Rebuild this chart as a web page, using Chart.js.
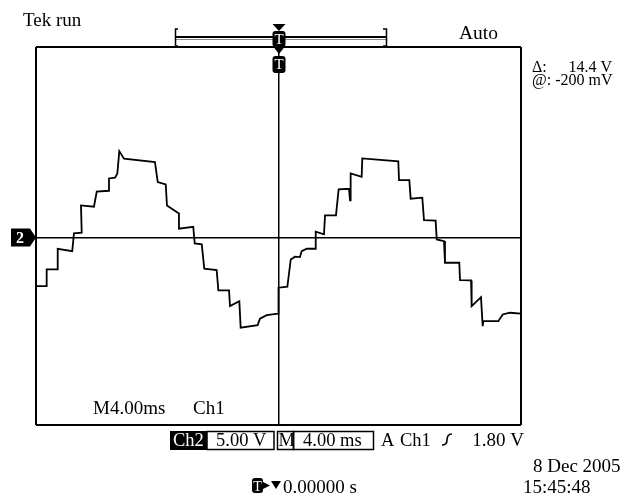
<!DOCTYPE html>
<html>
<head>
<meta charset="utf-8">
<script src="https://cdn.jsdelivr.net/npm/chart.js@4"></script>
<style>
  body { margin: 0; background: #fff; }
  canvas { display: block; }
</style>
</head>
<body>
<canvas id="scope" width="629" height="501"></canvas>
<script>
// ==== Trace data (ms from trigger, volts) ====
const traceTime = [
  -19.94, -19.12, -19.12, -18.21, -18.21, -17.01, -16.87, -16.23, -16.29, -15.22,
  -14.99, -14.00, -13.98, -13.48, -13.29, -13.13, -12.74, -10.19, -9.96, -9.30,
  -9.20, -8.21, -8.21, -7.03, -6.91, -6.33, -6.12, -5.10, -4.96, -4.08,
  -4.00, -3.23, -3.12, -1.72, -1.53, -0.97, -0.02,
  0.00, 0.73, 1.01, 1.36, 1.77, 1.91, 2.33, 3.07, 3.07, 3.75,
  3.84, 4.74, 4.96, 5.81, 5.90, 5.95, 6.86, 6.91, 9.88, 9.94,
  10.79, 10.90, 11.86, 12.00, 12.96, 13.05, 13.65, 13.73, 14.91, 14.97,
  15.88, 15.93, 16.70, 16.84, 16.89, 18.13, 18.49, 19.09, 20.00
];
const traceVolts = [
  -5.15, -5.15, -3.39, -3.39, -1.20, -1.45, 0.42, 0.50, 3.39, 3.25,
  4.84, 4.94, 6.24, 6.32, 6.77, 9.13, 8.33, 7.97, 5.85, 5.61,
  3.39, 2.54, 0.92, 1.13, -0.63, -0.74, -3.31, -3.46, -5.61, -5.61,
  -7.27, -6.74, -9.56, -9.28, -8.60, -8.22, -8.07,
  -5.32, -5.22, -2.33, -2.04, -2.08, -1.45, -1.20, -1.20, 0.60, 0.32,
  2.33, 2.33, 5.08, 5.15, 3.92, 6.77, 6.42, 8.36, 8.04, 6.06,
  6.06, 4.10, 4.20, 1.83, 1.77, -0.21, -0.39, -2.68, -2.68, -4.52,
  -4.55, -7.27, -6.32, -9.39, -8.86, -8.86, -8.15, -7.97, -8.07
];

// screen: 10 div x 4.00 ms, 8 div x 5.00 V (ground sits a touch below centre)
const timeRange = [-20, 20];
const voltRange = [-19.85, 20.15];

const FONT = '"Liberation Serif", "Times New Roman", serif';

// only the frame and the centre cross are drawn
function edgeTicks(scale) {
  scale.ticks = [scale.min, 0, scale.max].map(v => ({ value: v }));
}

function roundBox(ctx, x, y, w, h, r) {
  ctx.beginPath();
  ctx.moveTo(x + r, y);
  ctx.lineTo(x + w - r, y);
  ctx.quadraticCurveTo(x + w, y, x + w, y + r);
  ctx.lineTo(x + w, y + h - r);
  ctx.quadraticCurveTo(x + w, y + h, x + w - r, y + h);
  ctx.lineTo(x + r, y + h);
  ctx.quadraticCurveTo(x, y + h, x, y + h - r);
  ctx.lineTo(x, y + r);
  ctx.quadraticCurveTo(x, y, x + r, y);
  ctx.closePath();
  ctx.fill();
}

function tBadge(ctx, cx, top, h) {
  ctx.fillStyle = '#000';
  roundBox(ctx, cx - 6, top, 13, h, 3);
  ctx.fillStyle = '#fff';
  ctx.font = '15px ' + FONT;
  ctx.textAlign = 'center';
  ctx.textBaseline = 'middle';
  ctx.fillText('T', cx + 0.5, top + h / 2 + 1);
}

function tri(ctx, pts) {
  ctx.beginPath();
  ctx.moveTo(pts[0][0], pts[0][1]);
  for (let i = 1; i < pts.length; i++) ctx.lineTo(pts[i][0], pts[i][1]);
  ctx.closePath();
  ctx.fill();
}

// ==== Scope readouts ====
const scopeText = {
  id: 'scopeText',
  afterDraw(chart) {
    const ctx = chart.ctx;
    const area = chart.chartArea;
    const cx = chart.scales.x.getPixelForValue(0);
    const cy = chart.scales.y.getPixelForValue(0);
    ctx.save();
    ctx.fillStyle = '#000';
    ctx.strokeStyle = '#000';
    ctx.textBaseline = 'alphabetic';
    ctx.textAlign = 'left';

    ctx.font = '19px ' + FONT;
    ctx.fillText('Tek run', 23, 26);
    ctx.font = '19.5px ' + FONT;
    ctx.fillText('Auto', 459, 39);

    ctx.font = '16px ' + FONT;
    ctx.fillText('\u0394:', 532, 72);
    ctx.textAlign = 'right';
    ctx.fillText('14.4 V', 612, 72);
    ctx.textAlign = 'left';
    ctx.fillText('@: -200 mV', 532, 85);

    // record window bracket
    ctx.lineWidth = 2;
    ctx.beginPath();
    ctx.moveTo(176, 37); ctx.lineTo(386, 37);
    ctx.stroke();
    ctx.lineWidth = 1;
    ctx.strokeStyle = '#888';
    ctx.beginPath();
    ctx.moveTo(176, 39.5); ctx.lineTo(386, 39.5);
    ctx.stroke();
    ctx.strokeStyle = '#000';
    ctx.lineWidth = 1.5;
    ctx.beginPath();
    ctx.moveTo(178, 29); ctx.lineTo(175.5, 29); ctx.lineTo(175.5, 46); ctx.lineTo(178, 46);
    ctx.moveTo(383, 29); ctx.lineTo(386.5, 29); ctx.lineTo(386.5, 46); ctx.lineTo(383, 46);
    ctx.stroke();

    // trigger position markers
    ctx.fillStyle = '#000';
    tri(ctx, [[cx - 6, 24], [cx + 7, 24], [cx + 0.5, 31]]);
    tBadge(ctx, cx, 31, 16);
    ctx.fillStyle = '#000';
    tri(ctx, [[cx - 5, 47], [cx + 6, 47], [cx + 0.5, 54]]);
    tBadge(ctx, cx, 56, 17);

    // channel 2 ground marker
    ctx.fillStyle = '#000';
    ctx.beginPath();
    ctx.moveTo(11, cy - 9); ctx.lineTo(30, cy - 9); ctx.lineTo(area.left, cy);
    ctx.lineTo(30, cy + 9); ctx.lineTo(11, cy + 9);
    ctx.closePath();
    ctx.fill();
    ctx.fillStyle = '#fff';
    ctx.font = 'bold 16px ' + FONT;
    ctx.textAlign = 'center';
    ctx.textBaseline = 'middle';
    ctx.fillText('2', 20, cy + 1);

    // on-screen label
    ctx.fillStyle = '#000';
    ctx.textAlign = 'left';
    ctx.textBaseline = 'alphabetic';
    ctx.font = '19px ' + FONT;
    ctx.fillText('M4.00ms', 93, 414);
    ctx.fillText('Ch1', 193, 414);

    // status bar
    const sy = 431, sh = 19, base = 446;
    ctx.fillRect(170, sy, 37, sh);
    ctx.lineWidth = 1.5;
    ctx.strokeRect(207, sy + 0.5, 67, sh - 1);
    ctx.strokeRect(277.5, sy + 0.5, 16, sh - 1);
    ctx.strokeRect(293.5, sy + 0.5, 80, sh - 1);
    ctx.font = '18.5px ' + FONT;
    ctx.fillStyle = '#fff';
    ctx.fillText('Ch2', 173, base);
    ctx.fillStyle = '#000';
    ctx.fillText('5.00 V', 216, base);
    ctx.fillText('M', 278.5, base);
    ctx.fillText('4.00 ms', 303, base);
    ctx.fillText('A', 381, base);
    ctx.fillText('Ch1', 400, base);
    // rising edge symbol
    ctx.lineWidth = 1.6;
    ctx.beginPath();
    ctx.moveTo(442, 445);
    ctx.quadraticCurveTo(447, 445, 447, 440);
    ctx.quadraticCurveTo(447, 434, 452, 434);
    ctx.stroke();
    ctx.textAlign = 'right';
    ctx.font = '19px ' + FONT;
    ctx.fillText('1.80 V', 524, base);

    // date and trigger time
    ctx.textAlign = 'left';
    ctx.font = '19px ' + FONT;
    ctx.fillText('8 Dec 2005', 533, 472);
    ctx.fillText('15:45:48', 523, 493);
    ctx.fillStyle = '#000';
    roundBox(ctx, 252, 478, 11, 15, 3);
    ctx.fillStyle = '#fff';
    ctx.font = '14px ' + FONT;
    ctx.textAlign = 'center';
    ctx.fillText('T', 257.5, 491);
    ctx.fillStyle = '#000';
    tri(ctx, [[263, 482], [270, 485.5], [263, 489]]);
    tri(ctx, [[271, 481], [281, 481], [276, 489]]);
    ctx.textAlign = 'left';
    ctx.font = '19px ' + FONT;
    ctx.fillText('0.00000 s', 283, 493);

    ctx.restore();
  }
};

new Chart(document.getElementById('scope'), {
  type: 'line',
  data: {
    datasets: [{
      data: traceTime.map((t, i) => ({ x: t, y: traceVolts[i] })),
      borderColor: '#000',
      borderWidth: 1.8,
      pointRadius: 0,
      tension: 0,
      fill: false
    }]
  },
  options: {
    responsive: false,
    animation: false,
    layout: { padding: { left: 36, top: 47, right: 108, bottom: 76 } },
    plugins: { legend: { display: false }, tooltip: { enabled: false } },
    scales: {
      x: {
        type: 'linear',
        min: timeRange[0], max: timeRange[1],
        afterBuildTicks: edgeTicks,
        ticks: { display: false },
        border: { display: false },
        grid: {
          color: '#000',
          drawTicks: false,
          lineWidth: c => (c.tick && c.tick.value === 0 ? 1.5 : 2)
        }
      },
      y: {
        type: 'linear',
        min: voltRange[0], max: voltRange[1],
        afterBuildTicks: edgeTicks,
        ticks: { display: false },
        border: { display: false },
        grid: {
          color: '#000',
          drawTicks: false,
          lineWidth: c => (c.tick && c.tick.value === 0 ? 1.5 : 2)
        }
      }
    }
  },
  plugins: [scopeText]
});
</script>
</body>
</html>
